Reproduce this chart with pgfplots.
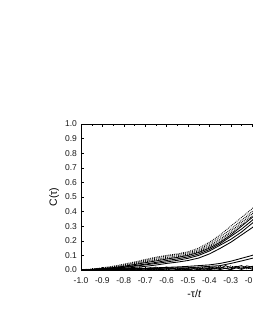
\documentclass[border=0pt]{standalone}
\usepackage{pgfplots}
\pgfplotsset{compat=1.18}
\usepackage{fontspec}
\setmainfont{Liberation Sans}
\begin{document}
\begin{tikzpicture}[x=1pt,y=1pt]
\useasboundingbox (0,0) rectangle (253,327);
\begin{scope}[overlay]
\begin{axis}[
  at={(81pt,57pt)}, anchor=south west,
  scale only axis, width=214pt, height=146pt,
  xmin=-1, xmax=0, ymin=0, ymax=1,
  xtick={-1,-0.9,-0.8,-0.7,-0.6,-0.5,-0.4,-0.3,-0.2,-0.1,0},
  xticklabels={-1.0,-0.9,-0.8,-0.7,-0.6,-0.5,-0.4,-0.3,-0.2,-0.1,0.0},
  ytick={0,0.1,0.2,0.3,0.4,0.5,0.6,0.7,0.8,0.9,1.0},
  yticklabels={0.0,0.1,0.2,0.3,0.4,0.5,0.6,0.7,0.8,0.9,1.0},
  minor x tick num=1,
  tick align=inside, major tick length=3pt, minor tick length=2pt,
  tick style={line width=0.4pt, black},
  axis line style={line width=0.6pt, black},
  ticklabel style={font=\fontsize{8.5}{9}\selectfont, text=black!90},
  xticklabel style={yshift=-4pt},
  yticklabel style={xshift=-0.5pt},
  xlabel={-τ/\textit{t}}, ylabel={C(τ)},
  label style={font=\fontsize{10.5}{11}\selectfont},
  xlabel style={at={(axis description cs:0.53,-0.164)}, anchor=center},
  ylabel style={at={(axis description cs:-0.125,0.5)}, anchor=center},
  clip=true,
  cycle list={{black,solid}},
  every axis plot/.append style={line width=0.85pt, black, no marks},
]
% upper group, dotted
\addplot+[densely dotted] coordinates {(-1,0)(-0.95,0.006)(-0.9,0.015)(-0.85,0.026)(-0.8,0.04)(-0.75,0.055)(-0.7,0.072)(-0.65,0.088)(-0.6,0.1)(-0.55,0.11)(-0.5,0.125)(-0.45,0.15)(-0.4,0.19)(-0.35,0.24)(-0.3,0.30)(-0.25,0.36)(-0.2,0.42)(-0.15,0.50)};
\addplot+[densely dotted] coordinates {(-1,0)(-0.95,0.005)(-0.9,0.012)(-0.85,0.022)(-0.8,0.035)(-0.75,0.05)(-0.7,0.066)(-0.65,0.082)(-0.6,0.095)(-0.55,0.105)(-0.5,0.118)(-0.45,0.14)(-0.4,0.178)(-0.35,0.225)(-0.3,0.28)(-0.25,0.34)(-0.2,0.40)(-0.15,0.48)};
\addplot+[densely dotted] coordinates {(-1,0)(-0.95,0.004)(-0.9,0.01)(-0.85,0.019)(-0.8,0.03)(-0.75,0.045)(-0.7,0.06)(-0.65,0.074)(-0.6,0.086)(-0.55,0.097)(-0.5,0.11)(-0.45,0.132)(-0.4,0.167)(-0.35,0.21)(-0.3,0.265)(-0.25,0.325)(-0.2,0.385)(-0.15,0.46)};
\addplot+[densely dotted] coordinates {(-1,0)(-0.95,0.004)(-0.9,0.009)(-0.85,0.017)(-0.8,0.027)(-0.75,0.04)(-0.7,0.055)(-0.65,0.068)(-0.6,0.08)(-0.55,0.09)(-0.5,0.104)(-0.45,0.125)(-0.4,0.158)(-0.35,0.2)(-0.3,0.252)(-0.25,0.31)(-0.2,0.37)(-0.15,0.44)};
% upper group, solid
\addplot coordinates {(-1,0)(-0.95,0.004)(-0.9,0.01)(-0.85,0.016)(-0.8,0.025)(-0.75,0.037)(-0.7,0.05)(-0.65,0.062)(-0.6,0.075)(-0.55,0.086)(-0.5,0.1)(-0.45,0.12)(-0.4,0.15)(-0.35,0.19)(-0.3,0.24)(-0.25,0.30)(-0.2,0.36)(-0.15,0.43)};
\addplot coordinates {(-1,0)(-0.95,0.003)(-0.9,0.008)(-0.85,0.013)(-0.8,0.02)(-0.75,0.03)(-0.7,0.04)(-0.65,0.052)(-0.6,0.065)(-0.55,0.076)(-0.5,0.09)(-0.45,0.11)(-0.4,0.14)(-0.35,0.18)(-0.3,0.23)(-0.25,0.28)(-0.2,0.34)(-0.15,0.41)};
\addplot coordinates {(-1,0)(-0.95,0.002)(-0.9,0.006)(-0.85,0.011)(-0.8,0.018)(-0.75,0.026)(-0.7,0.035)(-0.65,0.045)(-0.6,0.055)(-0.55,0.066)(-0.5,0.08)(-0.45,0.1)(-0.4,0.13)(-0.35,0.17)(-0.3,0.21)(-0.25,0.26)(-0.2,0.32)(-0.15,0.38)};
\addplot coordinates {(-1,0)(-0.95,0.002)(-0.9,0.005)(-0.85,0.008)(-0.8,0.012)(-0.75,0.018)(-0.7,0.025)(-0.65,0.034)(-0.6,0.045)(-0.55,0.054)(-0.5,0.065)(-0.45,0.082)(-0.4,0.11)(-0.35,0.148)(-0.3,0.19)(-0.25,0.24)(-0.2,0.29)(-0.15,0.35)};
% lower group
\addplot coordinates {(-1,0)(-0.95,0.002)(-0.9,0.003)(-0.85,0.006)(-0.8,0.008)(-0.75,0.01)(-0.7,0.012)(-0.65,0.015)(-0.6,0.018)(-0.55,0.021)(-0.5,0.025)(-0.45,0.03)(-0.4,0.035)(-0.35,0.045)(-0.3,0.06)(-0.25,0.08)(-0.2,0.10)(-0.15,0.13)};
\addplot coordinates {(-1,0)(-0.95,0.001)(-0.9,0.002)(-0.85,0.004)(-0.8,0.005)(-0.75,0.008)(-0.7,0.01)(-0.65,0.011)(-0.6,0.012)(-0.55,0.014)(-0.5,0.015)(-0.45,0.02)(-0.4,0.025)(-0.35,0.03)(-0.3,0.045)(-0.25,0.062)(-0.2,0.08)(-0.15,0.10)};
\addplot coordinates {(-1,0)(-0.975,0.004)(-0.95,0.001)(-0.925,0.006)(-0.9,0.002)(-0.875,0.008)(-0.85,0.003)(-0.825,0.012)(-0.8,0.004)(-0.775,0.01)(-0.75,0.002)(-0.725,0.014)(-0.7,0.006)(-0.675,0.016)(-0.65,0.005)(-0.625,0.012)(-0.6,0.02)(-0.575,0.008)(-0.55,0.015)(-0.525,0.004)(-0.5,0.012)(-0.475,0.02)(-0.45,0.006)(-0.425,0.014)(-0.4,0.01)(-0.375,0.022)(-0.35,0.008)(-0.325,0.03)(-0.3,0.015)(-0.275,0.025)(-0.25,0.01)(-0.225,0.028)(-0.2,0.02)(-0.15,0.03)};
\addplot coordinates {(-1,0)(-0.975,0.002)(-0.95,0.005)(-0.925,0.001)(-0.9,0.007)(-0.875,0.002)(-0.85,0.01)(-0.825,0.003)(-0.8,0.009)(-0.775,0.001)(-0.75,0.012)(-0.725,0.003)(-0.7,0.01)(-0.675,0.002)(-0.65,0.014)(-0.625,0.004)(-0.6,0.008)(-0.575,0.016)(-0.55,0.004)(-0.525,0.012)(-0.5,0.003)(-0.475,0.01)(-0.45,0.016)(-0.425,0.004)(-0.4,0.018)(-0.375,0.006)(-0.35,0.02)(-0.325,0.01)(-0.3,0.006)(-0.275,0.02)(-0.25,0.03)(-0.225,0.012)(-0.2,0.025)(-0.15,0.02)};
\addplot coordinates {(-1,0)(-0.975,0.003)(-0.95,0.0)(-0.925,0.004)(-0.9,0.0)(-0.875,0.005)(-0.85,0.001)(-0.825,0.006)(-0.8,0.0)(-0.775,0.006)(-0.75,0.001)(-0.725,0.004)(-0.7,0.0)(-0.675,0.007)(-0.65,0.001)(-0.625,0.005)(-0.6,0.0)(-0.575,0.008)(-0.55,0.002)(-0.525,0.006)(-0.5,0.0)(-0.475,0.007)(-0.45,0.002)(-0.425,0.008)(-0.4,0.001)(-0.375,0.01)(-0.35,0.003)(-0.325,0.012)(-0.3,0.002)(-0.275,0.015)(-0.25,0.004)(-0.225,0.018)(-0.2,0.006)(-0.15,0.01)};
\addplot+[densely dotted] coordinates {(-1,0)(-0.975,0.005)(-0.95,0.002)(-0.925,0.008)(-0.9,0.003)(-0.875,0.01)(-0.85,0.004)(-0.825,0.012)(-0.8,0.005)(-0.775,0.014)(-0.75,0.006)(-0.725,0.016)(-0.7,0.007)(-0.675,0.012)(-0.65,0.02)(-0.625,0.008)(-0.6,0.015)(-0.575,0.005)(-0.55,0.018)(-0.525,0.01)(-0.5,0.006)(-0.475,0.016)(-0.45,0.01)(-0.425,0.02)(-0.4,0.008)(-0.375,0.016)(-0.35,0.025)(-0.325,0.012)(-0.3,0.028)(-0.275,0.014)(-0.25,0.02)(-0.225,0.008)(-0.2,0.015)(-0.15,0.02)};
\end{axis}
\end{scope}
\end{tikzpicture}
\end{document}
